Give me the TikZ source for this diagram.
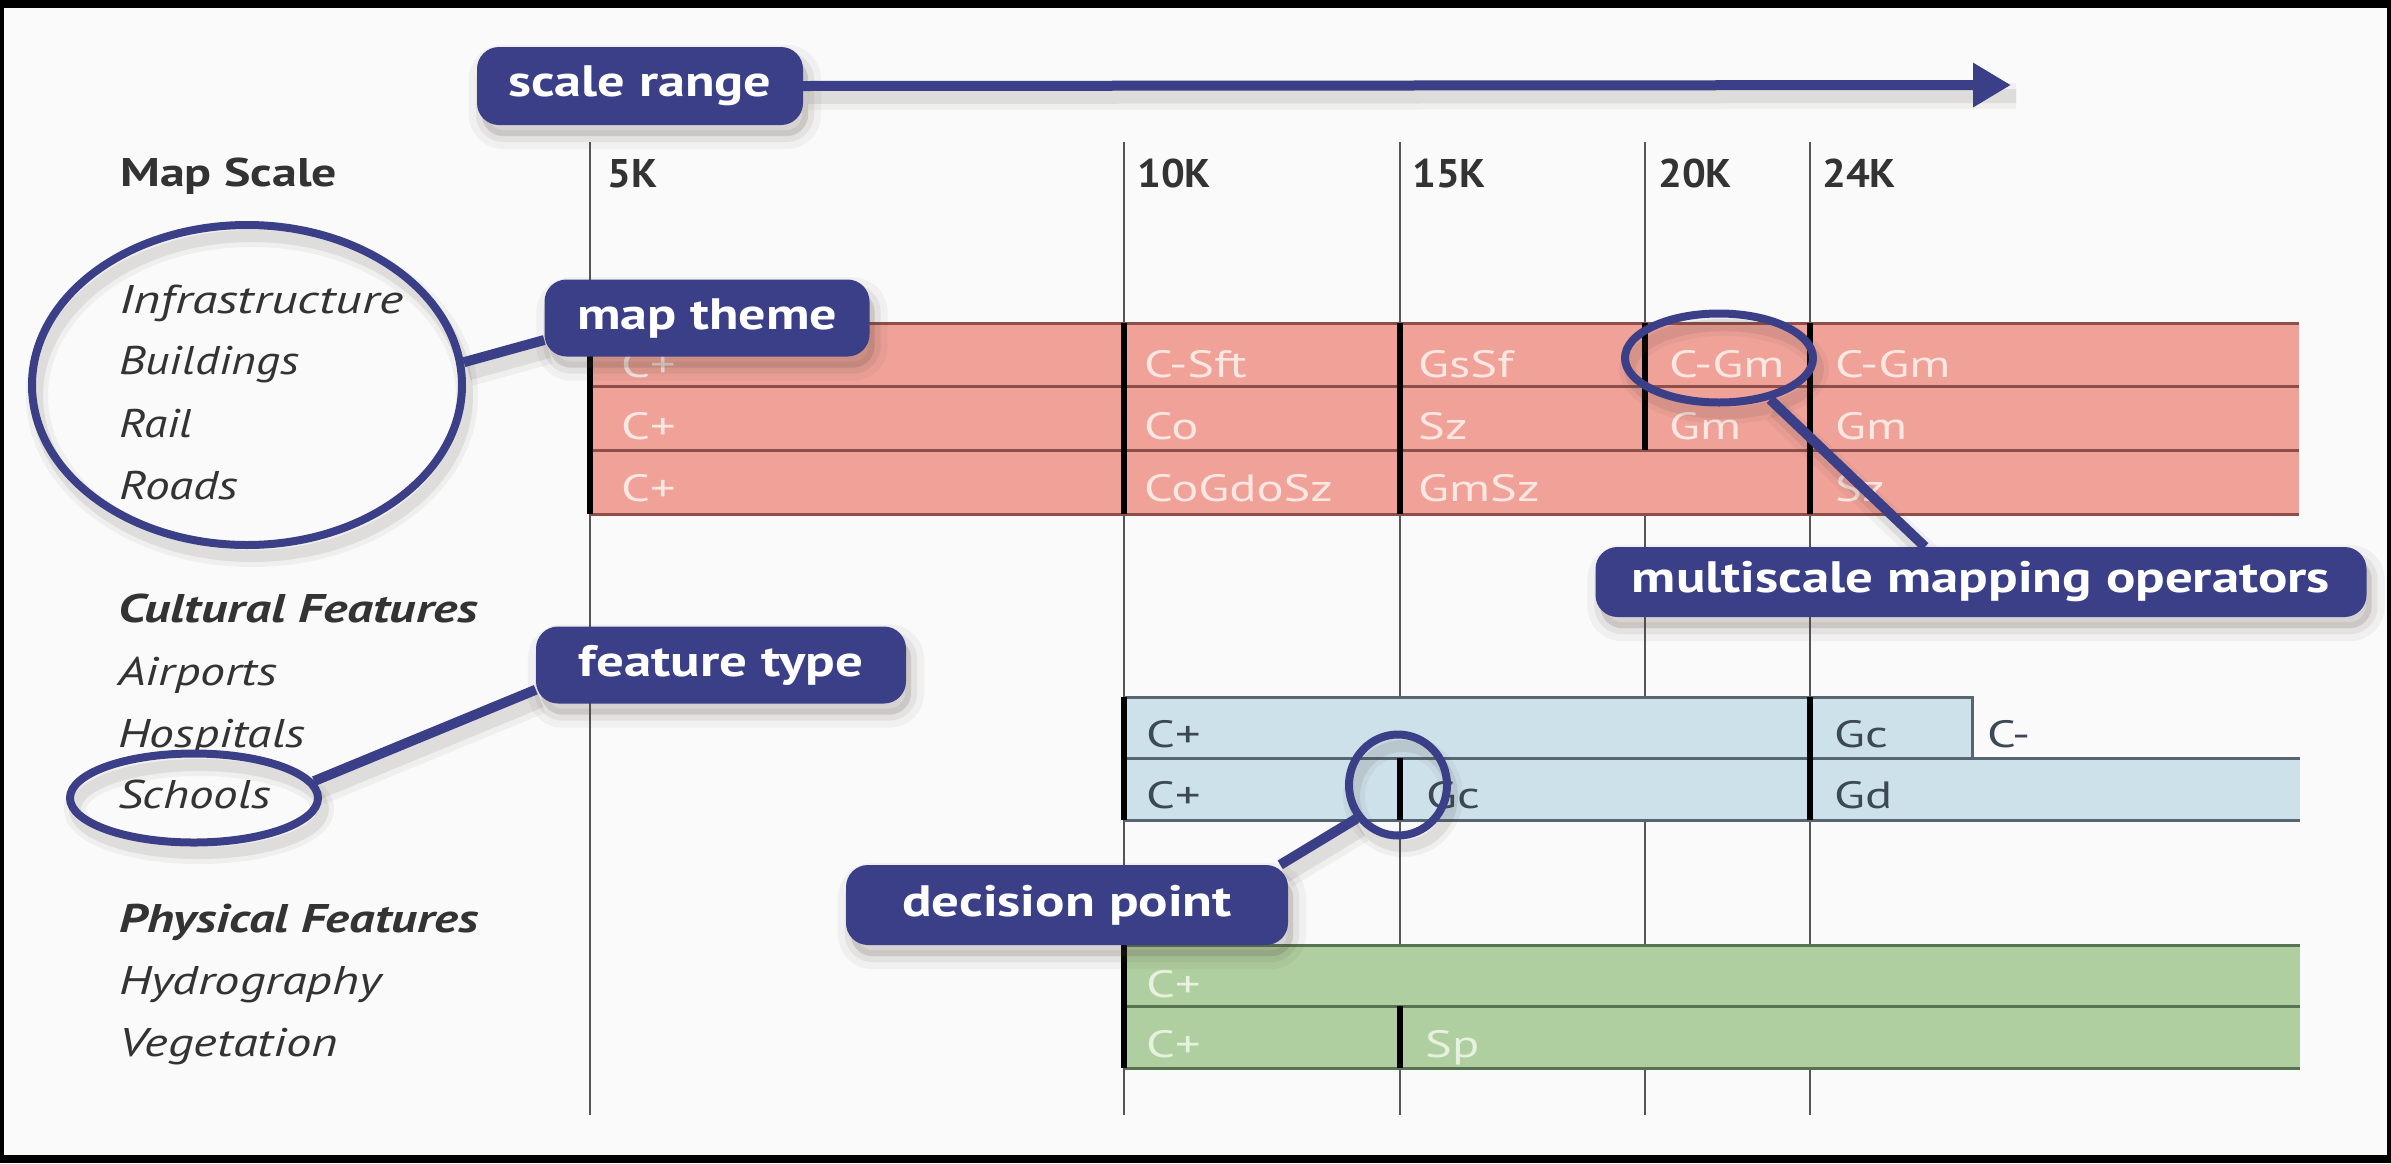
\documentclass[tikz,border=0pt]{standalone}
\usepackage{fontspec}
\setmainfont{PT Sans}
\usepackage{graphicx}
\usetikzlibrary{shapes.geometric,arrows.meta,calc}

\definecolor{navy}{HTML}{3A3F87}
\definecolor{bgc}{HTML}{FAFAFA}
\definecolor{pinkfill}{HTML}{F0A298}
\definecolor{pinkline}{HTML}{8E4E4A}
\definecolor{pinktext}{HTML}{FCE7E3}
\definecolor{bluefill}{HTML}{CDE1EB}
\definecolor{blueline}{HTML}{56656F}
\definecolor{bluetext}{HTML}{3C4855}
\definecolor{greenfill}{HTML}{B0CFA0}
\definecolor{greenline}{HTML}{56744F}
\definecolor{greentext}{HTML}{E6F1DE}
\definecolor{labelc}{HTML}{333333}
\definecolor{gridc}{HTML}{555555}
\definecolor{shadowc}{HTML}{4A4036}

\newcommand{\fitw}[2]{\resizebox{#1pt}{\height}{#2}}
\newcommand{\strx}[1]{\scalebox{1.33}[1]{#1}}
\newcommand{\strk}[1]{\scalebox{1.05}[1]{#1}}

\pgfdeclarelayer{shade}
\pgfdeclarelayer{links}
\pgfdeclarelayer{front}
\pgfsetlayers{main,shade,links,front}

\tikzset{
  lbl/.style={anchor=base west, inner sep=0pt, text=labelc, font=\fontsize{40}{44}\selectfont\itshape},
  head/.style={anchor=base west, inner sep=0pt, text=labelc, font=\fontsize{40}{44}\selectfont\bfseries\itshape},
  scalelbl/.style={anchor=base west, inner sep=0pt, text=labelc, font=\fontsize{40}{44}\selectfont\bfseries},
  op/.style={anchor=base west, inner sep=0pt, font=\fontsize{38}{42}\selectfont},
  pinkop/.style={op, text=pinktext},
  blueop/.style={op, text=bluetext},
  greenop/.style={op, text=greentext},
  callout/.style={fill=navy, rounded corners=22pt, inner sep=0pt, text=white, font=\fontsize{44}{48}\selectfont\bfseries},
  ring/.style={ellipse, draw=navy, line width=8pt, inner sep=0pt},
  link/.style={draw=navy, line width=10pt},
  grid line/.style={draw=gridc, line width=1.8pt},
  decide/.style={draw=black, line width=6pt},
  pinkrule/.style={draw=pinkline, line width=3pt},
  bluerule/.style={draw=blueline, line width=3pt},
  greenrule/.style={draw=greenline, line width=3pt},
  shadowpath/.style={draw=shadowc, draw opacity=0.10, line width=14pt},
  shadowhalo/.style={draw=shadowc, draw opacity=0.06, line width=26pt},
  shadowbox/.style={fill=shadowc, fill opacity=0.16, draw=shadowc, draw opacity=0.08, line width=12pt, rounded corners=22pt},
  shadowboxhalo/.style={draw=shadowc, draw opacity=0.05, line width=26pt, rounded corners=22pt},
}

\begin{document}
\begin{tikzpicture}[x=1pt,y=-1pt]
% frame and background
\fill[black] (0,0) rectangle (2391,1163);
\fill[bgc] (4,8) rectangle (2387,1155);

% grid lines
\draw[grid line] (590,142) -- (590,1115);
\draw[grid line] (1124,142) -- (1124,1115);
\draw[grid line] (1400,142) -- (1400,1115);
\draw[grid line] (1645,142) -- (1645,1115);
\draw[grid line] (1810,142) -- (1810,1115);

% pink bars (infrastructure)
\fill[pinkfill] (590,323) rectangle (2299,514);
\foreach \yy in {323,386,450,514} \draw[pinkrule] (590,\yy) -- (2299,\yy);
\draw[decide] (590,323) -- (590,514);
\draw[decide] (1124,323) -- (1124,514);
\draw[decide] (1400,323) -- (1400,514);
\draw[decide] (1645,323) -- (1645,450);
\draw[decide] (1810,323) -- (1810,514);

% blue bars (cultural)
\fill[bluefill] (1124,697) rectangle (1972,758);
\fill[bluefill] (1124,758) rectangle (2300,820);
\draw[bluerule] (1124,697) -- (1972,697) -- (1972,758);
\draw[bluerule] (1124,758) -- (2300,758);
\draw[bluerule] (1124,820) -- (2300,820);
\draw[decide] (1124,697) -- (1124,820);
\draw[decide] (1810,697) -- (1810,820);
\draw[decide] (1400,758) -- (1400,820);

% green bars (physical)
\fill[greenfill] (1124,945) rectangle (2300,1068);
\foreach \yy in {945,1006,1068} \draw[greenrule] (1124,\yy) -- (2300,\yy);
\draw[decide] (1124,945) -- (1124,1068);
\draw[decide] (1400,1006) -- (1400,1068);

% header row
\node[scalelbl] (mapscale) at (120,186) {\fitw{217}{Map Scale}};
\node[scalelbl] (k5) at (607,187) {\strk{5K}};
\node[scalelbl] (k10) at (1137,187) {\strk{10K}};
\node[scalelbl] (k15) at (1412,187) {\strk{15K}};
\node[scalelbl] (k20) at (1658,187) {\strk{20K}};
\node[scalelbl] (k24) at (1822,187) {\strk{24K}};

% feature labels
\node[lbl] (infra) at (119,313) {\fitw{284}{Infrastructure}};
\node[lbl] (build) at (119,374) {\fitw{180}{Buildings}};
\node[lbl] (rail) at (119,437) {\fitw{73}{Rail}};
\node[lbl] (roads) at (119,499) {\fitw{119}{Roads}};
\node[head] (cult) at (118,622) {\fitw{360}{Cultural Features}};
\node[lbl] (airp) at (118,685) {\fitw{159}{Airports}};
\node[lbl] (hosp) at (118,747) {\fitw{187}{Hospitals}};
\node[lbl] (schools) at (118,808) {\fitw{153}{Schools}};
\node[head] (phys) at (119,932) {\fitw{359}{Physical Features}};
\node[lbl] (hydro) at (119,994) {\fitw{262}{Hydrography}};
\node[lbl] (veg) at (119,1056) {\fitw{219}{Vegetation}};

% operator labels, pink
\node[pinkop] (b1) at (621,377) {\strx{C+}};
\node[pinkop] (b2) at (1144,377) {\strx{C-Sft}};
\node[pinkop] (b3) at (1418,377) {\strx{GsSf}};
\node[pinkop] (b4) at (1669,377) {\strx{C-Gm}};
\node[pinkop] (b5) at (1835,377) {\strx{C-Gm}};
\node[pinkop] (r1) at (621,439) {\strx{C+}};
\node[pinkop] (r2) at (1144,439) {\strx{Co}};
\node[pinkop] (r3) at (1418,439) {\strx{Sz}};
\node[pinkop] (r4) at (1669,439) {\strx{Gm}};
\node[pinkop] (r5) at (1835,439) {\strx{Gm}};
\node[pinkop] (d1) at (621,501) {\strx{C+}};
\node[pinkop] (d2) at (1144,501) {\strx{CoGdoSz}};
\node[pinkop] (d3) at (1418,501) {\strx{GmSz}};
\node[pinkop] (d4) at (1835,501) {\strx{Sz}};

% operator labels, blue
\node[blueop] (h1) at (1146,747) {\strx{C+}};
\node[blueop] (h2) at (1834,747) {\strx{Gc}};
\node[blueop] (h3) at (1987,747) {\strx{C-}};
\node[blueop] (s1) at (1146,808) {\strx{C+}};
\node[blueop] (s2) at (1426,808) {\strx{Gc}};
\node[blueop] (s3) at (1834,808) {\strx{Gd}};

% operator labels, green
\node[greenop] (y1) at (1146,997) {\strx{C+}};
\node[greenop] (v1) at (1146,1057) {\strx{C+}};
\node[greenop] (v2) at (1425,1057) {\strx{Sp}};

% callouts and rings
\begin{pgfonlayer}{front}
\coordinate (arrowtip) at (2011,85);
\node[ring, minimum width=430pt, minimum height=320pt] (ellInfra) at (247,385) {};
\node[ring, minimum width=248pt, minimum height=89pt] (ellSchools) at (194,798) {};
\node[ring, minimum width=188pt, minimum height=89pt] (ellCGm) at (1719,358) {};
\node[ring, minimum width=98pt, minimum height=101pt] (ellDec) at (1398,785) {};

\node[callout, minimum width=326pt, minimum height=78pt] (scalerange) at (640,86) {\fitw{263}{scale range}};
\node[callout, minimum width=325pt, minimum height=77pt] (maptheme) at (707,318) {\fitw{260}{map theme}};
\node[callout, minimum width=771pt, minimum height=70pt] (multiscale) at (1981,582) {\fitw{698}{multiscale mapping operators}};
\node[callout, minimum width=370pt, minimum height=77pt] (featuretype) at (721,665) {\fitw{284}{feature type}};
\node[callout, minimum width=442pt, minimum height=80pt] (decision) at (1067,905) {\fitw{330}{decision point}};
\end{pgfonlayer}

% links (below the callout boxes)
\begin{pgfonlayer}{links}
\draw[link, -{Triangle[length=38pt,width=42pt]}] (scalerange.east) -- (arrowtip);
\draw[link] (ellInfra.6) -- ([yshift=-22pt]maptheme.west);
\draw[link] (ellSchools.8) -- ([yshift=14pt]featuretype.south west);
\draw[link] (ellCGm.-39) -- ([xshift=-56pt]multiscale.north);
\draw[link] (ellDec.219) -- ([xshift=-8pt]decision.north east);
\end{pgfonlayer}

% soft shadows
\begin{pgfonlayer}{shade}
\begin{scope}[transform canvas={shift={(5pt,-11pt)}}]
\foreach \nm in {scalerange,maptheme,multiscale,featuretype,decision} {
  \path[shadowboxhalo] (\nm.south west) rectangle (\nm.north east);
  \path[shadowbox] (\nm.south west) rectangle (\nm.north east);
}
\draw[shadowhalo] (scalerange.east) -- (arrowtip);
\draw[shadowpath] (scalerange.east) -- (arrowtip);
\draw[shadowhalo] (ellInfra.6) -- ([yshift=-22pt]maptheme.west);
\draw[shadowpath] (ellInfra.6) -- ([yshift=-22pt]maptheme.west);
\draw[shadowhalo] (ellSchools.8) -- ([yshift=14pt]featuretype.south west);
\draw[shadowpath] (ellSchools.8) -- ([yshift=14pt]featuretype.south west);
\draw[shadowhalo] (ellCGm.-39) -- ([xshift=-56pt]multiscale.north);
\draw[shadowpath] (ellCGm.-39) -- ([xshift=-56pt]multiscale.north);
\draw[shadowhalo] (ellDec.219) -- ([xshift=-8pt]decision.north east);
\draw[shadowpath] (ellDec.219) -- ([xshift=-8pt]decision.north east);
\draw[shadowhalo, line width=22pt] (ellInfra.center) ellipse [x radius=215, y radius=160];
\draw[shadowpath, line width=12pt] (ellInfra.center) ellipse [x radius=215, y radius=160];
\draw[shadowhalo, line width=22pt] (ellSchools.center) ellipse [x radius=124, y radius=44];
\draw[shadowpath, line width=12pt] (ellSchools.center) ellipse [x radius=124, y radius=44];
\draw[shadowhalo, line width=22pt] (ellCGm.center) ellipse [x radius=94, y radius=44];
\draw[shadowpath, line width=12pt] (ellCGm.center) ellipse [x radius=94, y radius=44];
\draw[shadowhalo, line width=22pt] (ellDec.center) ellipse [x radius=49, y radius=50];
\draw[shadowpath, line width=12pt] (ellDec.center) ellipse [x radius=49, y radius=50];
\end{scope}
\end{pgfonlayer}
\end{tikzpicture}
\end{document}
